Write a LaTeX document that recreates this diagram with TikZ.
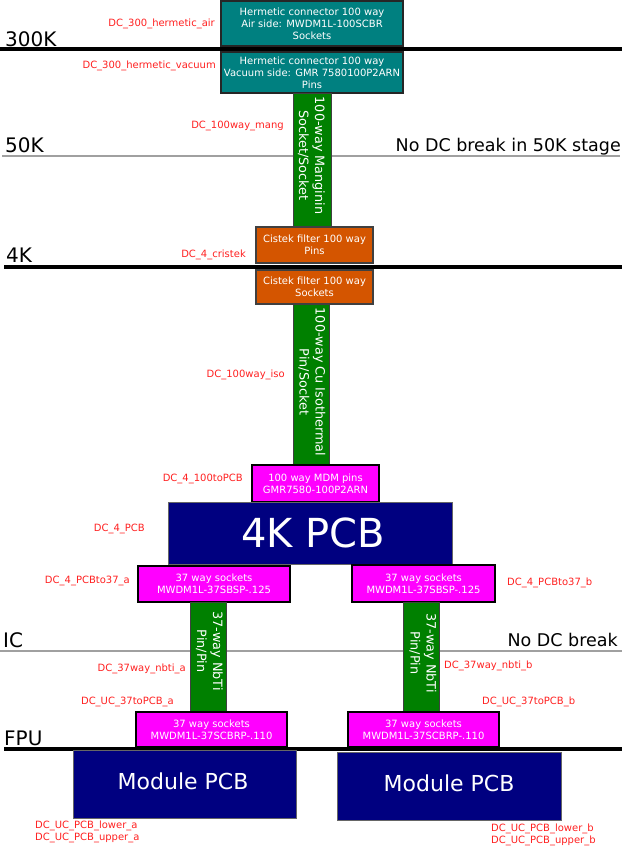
\documentclass[tikz,border=0pt]{standalone}
\usepackage{fontspec}
\setmainfont{DejaVu Sans}
\definecolor{tealc}{HTML}{008080}
\definecolor{greenc}{HTML}{008000}
\definecolor{orangec}{HTML}{D45500}
\definecolor{magc}{HTML}{FF00FF}
\definecolor{navyc}{HTML}{000080}
\definecolor{redc}{HTML}{FF2020}
\definecolor{grayline}{HTML}{A0A0A0}
\begin{document}
\begin{tikzpicture}[x=1pt,y=-1pt,
  box/.style={rectangle, inner sep=0pt, outer sep=0pt, align=center, text=white,
    font=\fontsize{10}{12}\selectfont},
  tealbox/.style={box, fill=tealc, draw=black!85, line width=1.2pt},
  orangebox/.style={box, fill=orangec, draw=black!75, line width=1.2pt},
  magbox/.style={box, fill=magc, draw=black, line width=1.4pt},
  navybox/.style={box, fill=navyc, draw=black!60, line width=0.8pt},
  cable/.style={box, fill=greenc, draw=black!75, line width=1pt},
  cabletext/.style={rotate=-90, inner sep=0pt, align=center, text=white,
    font=\fontsize{12.8}{16}\selectfont},
  lab/.style={inner sep=0pt, text=redc, font=\fontsize{10}{12}\selectfont},
  stage/.style={inner sep=0pt, anchor=base west, font=\fontsize{20}{24}\selectfont},
  note/.style={inner sep=0pt, anchor=base east, font=\fontsize{17.5}{21}\selectfont},
  heavy/.style={line width=3.5pt, black},
  light/.style={line width=2pt, grayline}]
\useasboundingbox (0,0) rectangle (622,847);

% stage lines
\coordinate (l300a) at (0,49);   \coordinate (l300b) at (622,49);
\coordinate (l50a) at (2,156);   \coordinate (l50b) at (620,156);
\coordinate (l4a) at (4,267);    \coordinate (l4b) at (622,267);
\coordinate (lica) at (0,651);   \coordinate (licb) at (622,651);
\coordinate (lfpua) at (4,749);  \coordinate (lfpub) at (622,749);
\draw[heavy] (l300a) -- (l300b);
\draw[light] (l50a) -- (l50b);
\draw[heavy] (l4a) -- (l4b);
\draw[light] (lica) -- (licb);
\draw[heavy] (lfpua) -- (lfpub);

% stage labels
\node[stage] (t300) at (5,46) {300K};
\node[stage] (t50) at (5,152) {50K};
\node[stage] (t4) at (6,262) {4K};
\node[stage] (tic) at (3,647) {IC};
\node[stage] (tfpu) at (4,745) {FPU};
\node[note] (n50) at (621,151) {No DC break in 50K stage};
\node[note] (nic) at (618,646) {No DC break};

% boxes
\node[tealbox, minimum width=182pt, minimum height=45pt] (hair) at (312,23.5)
  {Hermetic connector 100 way\\Air side: MWDM1L-100SCBR\\Sockets};
\node[tealbox, minimum width=182pt, minimum height=41pt] (hvac) at (312,72.5)
  {Hermetic connector 100 way\\Vacuum side: GMR 7580100P2ARN\\Pins};
\node[cable, minimum width=38pt, minimum height=133pt] (mang) at (312.5,159.5) {};
\node[cabletext] (mangt) at (311.5,155.5) {100-way Manginin\\Socket/Socket};
\node[orangebox, minimum width=117pt, minimum height=36pt] (cpins) at (314.5,245)
  {Cistek filter 100 way\\Pins};
\node[orangebox, minimum width=117pt, minimum height=34pt] (csock) at (314.5,287)
  {Cistek filter 100 way\\Sockets};
\node[cable, minimum width=36pt, minimum height=160pt] (cu) at (311,384.5) {};
\node[cabletext] (cut) at (312,382) {100-way Cu Isothermal\\Pin/Socket};
\node[magbox, minimum width=127pt, minimum height=37pt] (mdm) at (315.5,483.5)
  {100 way MDM pins\\GMR7580-100P2ARN};
\node[navybox, minimum width=284pt, minimum height=62pt] (pcb4) at (310,533) {};
\node[inner sep=0pt, text=white, font=\fontsize{40}{48}\selectfont, anchor=base] (pcb4t) at (313,547) {4K PCB};
\node[magbox, minimum width=152pt, minimum height=36pt] (s37a) at (214,584)
  {37 way sockets\\MWDM1L-37SBSP-.125};
\node[magbox, minimum width=143pt, minimum height=37pt] (s37b) at (423.5,583.5)
  {37 way sockets\\MWDM1L-37SBSP-.125};
\node[cable, minimum width=36pt, minimum height=110pt] (nba) at (208,657) {};
\node[cabletext] (nbat) at (209.5,651) {37-way NbTi\\Pin/Pin};
\node[cable, minimum width=36pt, minimum height=109pt] (nbb) at (421,656.5) {};
\node[cabletext] (nbbt) at (423,653) {37-way NbTi\\Pin/Pin};
\node[magbox, minimum width=151pt, minimum height=35pt] (fa) at (211.5,729.5)
  {37 way sockets\\MWDM1L-37SCBRP-.110};
\node[magbox, minimum width=151pt, minimum height=35pt] (fb) at (423.5,729.5)
  {37 way sockets\\MWDM1L-37SCBRP-.110};
\node[navybox, minimum width=223pt, minimum height=68pt] (moda) at (184.5,784) {};
\node[inner sep=0pt, text=white, font=\fontsize{22}{26}\selectfont, anchor=base] (modat) at (183,789) {Module PCB};
\node[navybox, minimum width=224pt, minimum height=68pt] (modb) at (449,786) {};
\node[inner sep=0pt, text=white, font=\fontsize{22}{26}\selectfont, anchor=base] (modbt) at (449,791) {Module PCB};

% red labels
\node[lab, anchor=east] (d1) at (215,24) {DC\_300\_hermetic\_air};
\node[lab, anchor=east] (d2) at (216,66) {DC\_300\_hermetic\_vacuum};
\node[lab, anchor=east] (d3) at (284,126) {DC\_100way\_mang};
\node[lab, anchor=east] (d4) at (246,255) {DC\_4\_cristek};
\node[lab, anchor=east] (d5) at (285,375) {DC\_100way\_iso};
\node[lab, anchor=east] (d6) at (243,479) {DC\_4\_100toPCB};
\node[lab, anchor=east] (d7) at (145,529) {DC\_4\_PCB};
\node[lab, anchor=east] (d8) at (130,581) {DC\_4\_PCBto37\_a};
\node[lab, anchor=west] (d9) at (507,583) {DC\_4\_PCBto37\_b};
\node[lab, anchor=east] (d10) at (186,669) {DC\_37way\_nbti\_a};
\node[lab, anchor=east] (d11) at (174,702) {DC\_UC\_37toPCB\_a};
\node[lab, anchor=west] (d12) at (444,666) {DC\_37way\_nbti\_b};
\node[lab, anchor=west] (d13) at (482,702) {DC\_UC\_37toPCB\_b};
\node[lab, anchor=west] (d14) at (35,826) {DC\_UC\_PCB\_lower\_a};
\node[lab, anchor=west] (d15) at (35,838) {DC\_UC\_PCB\_upper\_a};
\node[lab, anchor=west] (d16) at (491,829) {DC\_UC\_PCB\_lower\_b};
\node[lab, anchor=west] (d17) at (491,841) {DC\_UC\_PCB\_upper\_b};
\end{tikzpicture}
\end{document}
